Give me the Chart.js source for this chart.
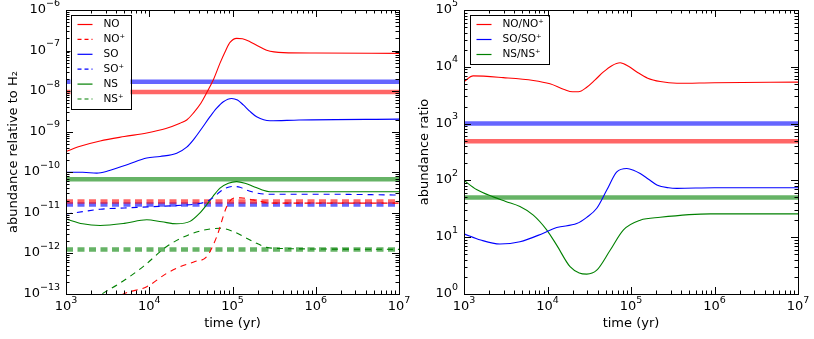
<!DOCTYPE html>
<html>
<head>
<meta charset="utf-8">
<script src="https://cdn.jsdelivr.net/npm/chart.js@4.4.1/dist/chart.umd.min.js"></script>
<style>
  html, body { margin: 0; padding: 0; background: #fff; }
  #wrap { position: relative; width: 814px; height: 339px; }
  canvas { position: absolute; top: 0; }
  #left { left: 0; }
  #right { left: 413px; }
</style>
</head>
<body>
<div id="wrap">
  <canvas id="left" width="413" height="339"></canvas>
  <canvas id="right" width="401" height="339"></canvas>
</div>
<script>
// --- values (log10 of time in yr, log10 of abundance) ---

// left panel: abundance relative to H2
const noLogT = [3.0, 3.17, 3.41, 3.7, 3.97, 4.2, 4.37, 4.45, 4.53, 4.62, 4.69, 4.77, 4.85, 4.92, 4.97, 5.05, 5.12, 5.21, 5.3, 5.41, 5.61, 6.0, 7.0];
const noLogA = [-9.49, -9.36, -9.23, -9.12, -9.03, -8.92, -8.79, -8.71, -8.54, -8.3, -8.04, -7.72, -7.31, -6.99, -6.80, -6.70, -6.71, -6.78, -6.88, -6.99, -7.05, -7.06, -7.07];

const noPLogT = [3.0, 3.4, 3.69, 3.97, 4.21, 4.37, 4.55, 4.69, 4.81, 4.93, 5.01, 5.1, 5.25, 5.49, 6.0, 7.0];
const noPLogA = [-13.9, -13.4, -13.0, -12.82, -12.49, -12.33, -12.2, -12.08, -11.59, -10.85, -10.64, -10.63, -10.68, -10.76, -10.76, -10.76];

const soLogT = [3.0, 3.2, 3.37, 3.5, 3.75, 3.97, 4.13, 4.33, 4.45, 4.53, 4.63, 4.73, 4.81, 4.89, 4.99, 5.06, 5.13, 5.21, 5.29, 5.45, 5.8, 7.0];
const soLogA = [-10.0, -10.0, -10.02, -9.97, -9.8, -9.65, -9.61, -9.53, -9.38, -9.20, -8.92, -8.63, -8.42, -8.26, -8.18, -8.22, -8.34, -8.50, -8.63, -8.73, -8.71, -8.69];

const soPLogT = [3.0, 3.2, 3.41, 3.7, 4.01, 4.41, 4.6, 4.69, 4.77, 4.85, 4.93, 5.01, 5.09, 5.17, 5.29, 5.41, 6.0, 7.0];
const soPLogA = [-11.03, -10.97, -10.91, -10.88, -10.85, -10.81, -10.77, -10.72, -10.62, -10.48, -10.38, -10.35, -10.37, -10.44, -10.51, -10.54, -10.54, -10.56];

const nsLogT = [3.0, 3.2, 3.41, 3.7, 3.97, 4.15, 4.33, 4.49, 4.6, 4.69, 4.77, 4.85, 4.95, 5.05, 5.15, 5.25, 5.35, 5.45, 6.0, 7.0];
const nsLogA = [-11.15, -11.27, -11.31, -11.26, -11.17, -11.22, -11.27, -11.21, -11.02, -10.80, -10.58, -10.39, -10.27, -10.23, -10.27, -10.35, -10.43, -10.48, -10.48, -10.48];

const nsPLogT = [3.0, 3.43, 3.65, 3.93, 4.21, 4.53, 4.85, 5.01, 5.25, 5.41, 5.61, 6.0, 7.0];
const nsPLogA = [-13.6, -13.0, -12.73, -12.32, -11.83, -11.50, -11.38, -11.46, -11.71, -11.85, -11.88, -11.89, -11.90];

// observed values (thick horizontal bands)
const obsLeft = { no: 9.5e-9, so: 1.7e-8, ns: 6.7e-11, noP: 1.9e-11, soP: 1.6e-11, nsP: 1.25e-12 };

// right panel: abundance ratios
const noRatioLogT = [3.0, 3.11, 3.47, 3.83, 4.03, 4.2, 4.3, 4.37, 4.47, 4.57, 4.67, 4.77, 4.87, 4.97, 5.07, 5.2, 5.35, 5.55, 6.0, 7.0];
const noRatioLog  = [3.74, 3.84, 3.81, 3.76, 3.70, 3.60, 3.56, 3.56, 3.64, 3.77, 3.91, 4.02, 4.07, 4.01, 3.91, 3.80, 3.74, 3.71, 3.72, 3.73];

const soRatioLogT = [3.0, 3.2, 3.43, 3.67, 3.95, 4.11, 4.35, 4.47, 4.59, 4.71, 4.83, 4.95, 5.03, 5.11, 5.21, 5.31, 5.45, 5.55, 6.0, 7.0];
const soRatioLog  = [1.06, 0.95, 0.88, 0.92, 1.07, 1.17, 1.24, 1.35, 1.51, 1.83, 2.15, 2.21, 2.18, 2.12, 2.02, 1.92, 1.87, 1.86, 1.87, 1.87];

const nsRatioLogT = [3.0, 3.15, 3.35, 3.5, 3.67, 3.83, 3.99, 4.11, 4.27, 4.38, 4.47, 4.59, 4.75, 4.91, 5.11, 5.35, 5.95, 7.0];
const nsRatioLog  = [2.0, 1.84, 1.71, 1.63, 1.54, 1.39, 1.13, 0.86, 0.48, 0.37, 0.35, 0.42, 0.77, 1.13, 1.30, 1.35, 1.41, 1.41];

const obsRight = { no: 490, so: 1000, ns: 50 };

const xTicks = [1e3, 1e4, 1e5, 1e6, 1e7];

// ---------------------------------------------------------------------------

const FONT = "'DejaVu Sans', sans-serif";
const RED = '#ff0000', BLUE = '#0000ff', GREEN = '#008000';
const RED_A = 'rgba(255,0,0,0.6)', BLUE_A = 'rgba(0,0,255,0.6)', GREEN_A = 'rgba(0,128,0,0.6)';
const DASH = [6, 5];

function toPoints(logT, logV) {
    return logT.map((t, i) => ({ x: Math.pow(10, t), y: Math.pow(10, logV[i]) }));
}

function curve(label, logT, logV, color, dashed) {
    return {
        label, data: toPoints(logT, logV),
        borderColor: color, borderWidth: 1.1, borderDash: dashed ? DASH : [],
        pointRadius: 0, cubicInterpolationMode: 'monotone', clip: 0,
        inLegend: true, order: 1
    };
}

function band(value, color, dashed) {
    return {
        label: '', data: [{ x: 1e3, y: value }, { x: 1e7, y: value }],
        borderColor: color, borderWidth: 4.5, borderDash: dashed ? [7, 4.5] : [],
        borderCapStyle: 'butt', pointRadius: 0, inLegend: false, order: 2
    };
}

// "10" with a raised exponent, like matplotlib's mathtext tick labels
function drawPow(ctx, e, x, y, align) {
    const base = '10', exp = String(e).replace('-', '\u2212');
    ctx.font = '13px ' + FONT;
    const wb = ctx.measureText(base).width;
    ctx.font = '9.5px ' + FONT;
    const we = ctx.measureText(exp).width;
    const w = wb + we;
    let x0 = align === 'center' ? x - w / 2 : x - w;
    ctx.textBaseline = 'alphabetic';
    ctx.textAlign = 'left';
    ctx.font = '13px ' + FONT;
    ctx.fillText(base, x0, y);
    ctx.font = '9.5px ' + FONT;
    ctx.fillText(exp, x0 + wb, y - 7.5);
}

// draws the matplotlib-like box, inward ticks, tick labels and a boxed legend
const mplFrame = {
    id: 'mplFrame',
    afterDatasetsDraw(chart, args, opts) {
        const { ctx, chartArea: a, scales } = chart;
        const xs = scales.x, ys = scales.y;
        ctx.save();
        ctx.strokeStyle = '#000';
        ctx.lineWidth = 1;
        ctx.beginPath();
        const tick = (px, major, horiz) => {
            const len = major ? 7 : 3.5;
            if (horiz) {
                ctx.moveTo(px, a.bottom); ctx.lineTo(px, a.bottom - len);
                ctx.moveTo(px, a.top); ctx.lineTo(px, a.top + len);
            } else {
                ctx.moveTo(a.left, px); ctx.lineTo(a.left + len, px);
                ctx.moveTo(a.right, px); ctx.lineTo(a.right - len, px);
            }
        };
        for (let e = 3; e <= 7; e++) {
            for (let k = 1; k <= 9; k++) {
                if (e === 7 && k > 1) break;
                tick(Math.round(xs.getPixelForValue(k * Math.pow(10, e))) + 0.5, k === 1, true);
            }
        }
        for (let e = opts.yMinExp; e <= opts.yMaxExp; e++) {
            for (let k = 1; k <= 9; k++) {
                if (e === opts.yMaxExp && k > 1) break;
                tick(Math.round(ys.getPixelForValue(k * Math.pow(10, e))) + 0.5, k === 1, false);
            }
        }
        ctx.stroke();
        ctx.strokeRect(Math.round(a.left) + 0.5, Math.round(a.top) + 0.5,
                       Math.round(a.right - a.left), Math.round(a.bottom - a.top));

        // tick labels
        ctx.fillStyle = '#000';
        xTicks.forEach(v => drawPow(ctx, Math.round(Math.log10(v)), xs.getPixelForValue(v), a.bottom + 16, 'center'));
        for (let e = opts.yMinExp; e <= opts.yMaxExp; e++) {
            drawPow(ctx, e, a.left - 6, ys.getPixelForValue(Math.pow(10, e)) + 3, 'right');
        }

        // legend
        const lg = opts.legend;
        const bx = a.left + lg.dx, by = a.top + lg.dy;
        ctx.fillStyle = '#fff';
        ctx.fillRect(bx, by, lg.w, lg.h);
        ctx.strokeStyle = '#000';
        ctx.strokeRect(Math.round(bx) + 0.5, Math.round(by) + 0.5, lg.w, lg.h);
        ctx.font = '10.5px ' + FONT;
        ctx.textBaseline = 'middle';
        ctx.textAlign = 'left';
        let row = 0;
        chart.data.datasets.forEach(ds => {
            if (!ds.inLegend) return;
            const yy = by + 9.5 + row * lg.row;
            ctx.strokeStyle = ds.borderColor;
            ctx.lineWidth = 1.2;
            ctx.setLineDash(ds.borderDash.length ? [4, 3] : []);
            ctx.beginPath();
            ctx.moveTo(bx + 7, yy); ctx.lineTo(bx + 22, yy);
            ctx.stroke();
            ctx.setLineDash([]);
            ctx.fillStyle = '#000';
            ctx.fillText(ds.label, bx + 33, yy);
            row++;
        });
        ctx.restore();
    }
};

function axisTitle(text, top, bottom) {
    return { display: true, text, color: '#000', font: { family: FONT, size: 13 }, padding: { top, bottom } };
}

function makeChart(id, datasets, o) {
    return new Chart(document.getElementById(id), {
        type: 'line',
        data: { datasets },
        plugins: [mplFrame],
        options: {
            responsive: false, animation: false, events: [],
            layout: { padding: { top: 10, right: o.padRight, left: 0, bottom: 0 } },
            plugins: {
                legend: { display: false }, tooltip: { enabled: false },
                mplFrame: { yMinExp: o.yMinExp, yMaxExp: o.yMaxExp, legend: o.legend }
            },
            scales: {
                x: {
                    type: 'logarithmic', min: 1e3, max: 1e7,
                    grid: { display: false }, border: { display: false },
                    ticks: { display: false },
                    afterFit: s => { s.height = 45; s.paddingLeft = 0; s.paddingRight = 0; },
                    title: axisTitle('time (yr)', 2, 8)
                },
                y: {
                    type: 'logarithmic', min: Math.pow(10, o.yMinExp), max: Math.pow(10, o.yMaxExp),
                    grid: { display: false }, border: { display: false },
                    ticks: { display: false },
                    afterFit: s => { s.width = o.yWidth; s.paddingTop = 0; s.paddingBottom = 0; },
                    title: axisTitle(o.yTitle, o.titlePad, 2)
                }
            }
        }
    });
}

makeChart('left', [
    curve('NO', noLogT, noLogA, RED, false),
    curve('NO\u207A', noPLogT, noPLogA, RED, true),
    curve('SO', soLogT, soLogA, BLUE, false),
    curve('SO\u207A', soPLogT, soPLogA, BLUE, true),
    curve('NS', nsLogT, nsLogA, GREEN, false),
    curve('NS\u207A', nsPLogT, nsPLogA, GREEN, true),
    band(obsLeft.so, BLUE_A, false),
    band(obsLeft.no, RED_A, false),
    band(obsLeft.ns, GREEN_A, false),
    band(obsLeft.noP, RED_A, true),
    band(obsLeft.soP, BLUE_A, true),
    band(obsLeft.nsP, GREEN_A, true)
], {
    yMinExp: -13, yMaxExp: -6, yWidth: 66, padRight: 14, titlePad: 6,
    yTitle: 'abundance relative to H\u2082',
    legend: { dx: 4.5, dy: 5, w: 60, h: 94, row: 14.9 }
});

makeChart('right', [
    curve('NO/NO\u207A', noRatioLogT, noRatioLog, RED, false),
    curve('SO/SO\u207A', soRatioLogT, soRatioLog, BLUE, false),
    curve('NS/NS\u207A', nsRatioLogT, nsRatioLog, GREEN, false),
    band(obsRight.so, BLUE_A, false),
    band(obsRight.no, RED_A, false),
    band(obsRight.ns, GREEN_A, false)
], {
    yMinExp: 0, yMaxExp: 5, yWidth: 51, padRight: 16, titlePad: 4,
    yTitle: 'abundance ratio',
    legend: { dx: 5.5, dy: 5, w: 79, h: 49, row: 15 }
});
</script>
</body>
</html>
